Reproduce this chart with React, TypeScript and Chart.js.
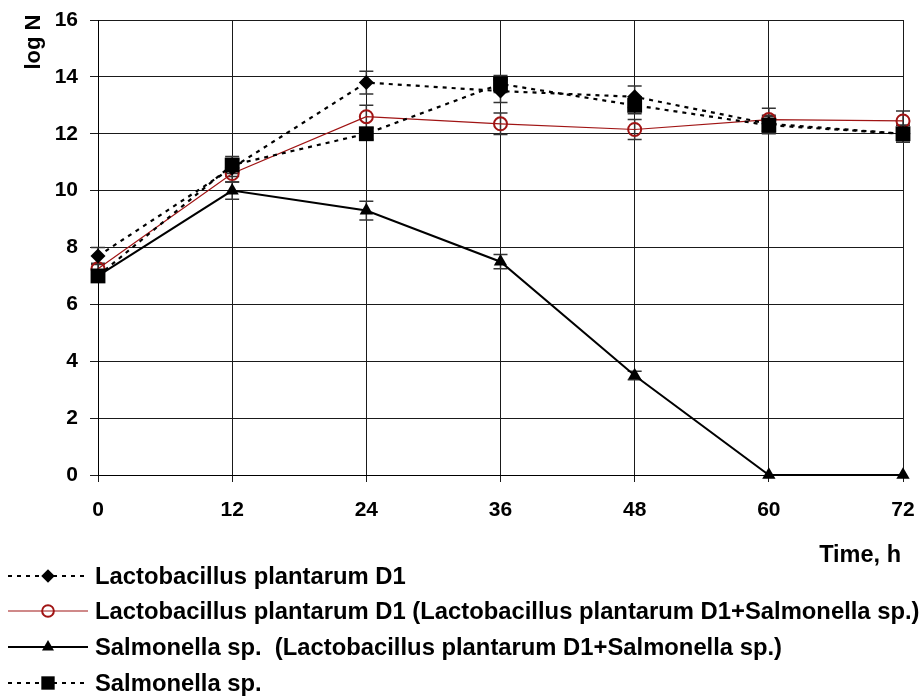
import { useEffect, useRef } from "react";
import { Chart, registerables } from "chart.js";
import { drawPoint } from "chart.js/helpers";

Chart.register(...registerables);

const hours = [0, 12, 24, 36, 48, 60, 72];
const yTickValues = [0, 2, 4, 6, 8, 10, 12, 14, 16];

const lpD1 = [7.7, 10.8, 13.8, 13.5, 13.3, 12.35, 12.0];
const lpD1Err = [0.3, 0.3, 0.4, 0.4, 0.38, 0.3, 0.3];

const lpMix = [7.25, 10.6, 12.6, 12.35, 12.15, 12.5, 12.45];
const lpMixErr = [0.2, 0.3, 0.4, 0.38, 0.35, 0.4, 0.35];

const salMix = [7.0, 10.0, 9.3, 7.5, 3.5, 0, 0];
const salMixErr = [0.2, 0.3, 0.33, 0.25, 0.15, 0, 0];

const sal = [7.0, 10.9, 12.0, 13.75, 13.0, 12.3, 12.0];
const salErr = [0.2, 0.3, 0.2, 0.3, 0.3, 0.3, 0.3];

const seriesLabels = [
  "Lactobacillus plantarum D1",
  "Lactobacillus plantarum D1 (Lactobacillus plantarum D1+Salmonella sp.)",
  "Salmonella sp.  (Lactobacillus plantarum D1+Salmonella sp.)",
  "Salmonella sp.",
];

const xTitle = "Time, h";
const yTitle = "log N";

const FONT = "'Liberation Sans', Arial, sans-serif";
const RED = "#A01414";

const toPoints = (vals: number[]) => hours.map((h, i) => ({ x: h, y: vals[i] }));

export default function App() {
  const ref = useRef<HTMLCanvasElement | null>(null);

  useEffect(() => {
    if (!ref.current) return;

    const errorBars = {
      id: "errorBars",
      beforeDatasetsDraw(chart: any) {
        const ctx = chart.ctx;
        const ys = chart.scales.y;
        ctx.save();
        ctx.strokeStyle = "#333";
        ctx.lineWidth = 1.5;
        chart.data.datasets.forEach((ds: any, di: number) => {
          const meta = chart.getDatasetMeta(di);
          const errs: number[] = ds.errors || [];
          meta.data.forEach((el: any, i: number) => {
            const e = errs[i];
            if (!e) return;
            const v = ds.data[i].y;
            const x = el.x;
            const y1 = ys.getPixelForValue(v + e);
            const y2 = ys.getPixelForValue(v - e);
            ctx.beginPath();
            ctx.moveTo(x, y1);
            ctx.lineTo(x, y2);
            ctx.moveTo(x - 7, y1);
            ctx.lineTo(x + 7, y1);
            ctx.moveTo(x - 7, y2);
            ctx.lineTo(x + 7, y2);
            ctx.stroke();
          });
        });
        ctx.restore();
      },
    };

    const extras = {
      id: "extras",
      afterDraw(chart: any) {
        const ctx = chart.ctx;
        ctx.save();
        ctx.fillStyle = "#000";
        ctx.font = `bold 22px ${FONT}`;
        ctx.translate(34, 42);
        ctx.rotate(-Math.PI / 2);
        ctx.textAlign = "center";
        ctx.textBaseline = "middle";
        ctx.fillText(yTitle, 0, 0);
        ctx.restore();

        ctx.save();
        ctx.fillStyle = "#000";
        ctx.font = `bold 23.5px ${FONT}`;
        ctx.textAlign = "right";
        ctx.textBaseline = "middle";
        ctx.fillText(xTitle, 901, 556);

        const rows = [576, 611, 647, 683];
        chart.data.datasets.forEach((ds: any) => {
          const y = rows[ds.legendRow];
          ctx.save();
          ctx.strokeStyle = ds.borderColor;
          ctx.lineWidth = ds.borderWidth;
          ctx.setLineDash(ds.borderDash || []);
          ctx.beginPath();
          ctx.moveTo(8, y);
          ctx.lineTo(88, y);
          ctx.stroke();
          ctx.setLineDash([]);
          ctx.fillStyle = ds.pointBackgroundColor;
          ctx.strokeStyle = ds.pointBorderColor;
          ctx.lineWidth = ds.pointBorderWidth;
          drawPoint(
            ctx,
            {
              pointStyle: ds.pointStyle,
              radius: ds.pointRadius * 0.9,
              borderWidth: ds.pointBorderWidth,
              rotation: 0,
            } as any,
            48,
            y
          );
          ctx.restore();
          ctx.fillStyle = "#000";
          ctx.font = `bold 23.8px ${FONT}`;
          ctx.textAlign = "left";
          ctx.textBaseline = "middle";
          ctx.fillText(ds.label, 95, y + 1);
        });
        ctx.restore();
      },
    };

    const chart = new Chart(ref.current, {
      type: "line",
      data: {
        datasets: [
          {
            label: seriesLabels[3],
            legendRow: 3,
            data: toPoints(sal),
            errors: salErr,
            borderColor: "#000",
            borderWidth: 2.2,
            borderDash: [4, 5],
            pointStyle: "rect",
            pointRadius: 10.5,
            pointBackgroundColor: "#000",
            pointBorderColor: "#000",
            pointBorderWidth: 0,
            order: 0,
            clip: false,
          } as any,
          {
            label: seriesLabels[0],
            legendRow: 0,
            data: toPoints(lpD1),
            errors: lpD1Err,
            borderColor: "#000",
            borderWidth: 2.2,
            borderDash: [4, 5],
            pointStyle: "rectRot",
            pointRadius: 7.5,
            pointBackgroundColor: "#000",
            pointBorderColor: "#000",
            pointBorderWidth: 0,
            order: 1,
            clip: false,
          } as any,
          {
            label: seriesLabels[1],
            legendRow: 1,
            data: toPoints(lpMix),
            errors: lpMixErr,
            borderColor: RED,
            borderWidth: 1.2,
            pointStyle: "circle",
            pointRadius: 6.5,
            pointBackgroundColor: "rgba(255,255,255,0)",
            pointBorderColor: RED,
            pointBorderWidth: 2,
            order: 2,
            clip: false,
          } as any,
          {
            label: seriesLabels[2],
            legendRow: 2,
            data: toPoints(salMix),
            errors: salMixErr,
            borderColor: "#000",
            borderWidth: 2,
            pointStyle: "triangle",
            pointRadius: 7.7,
            pointBackgroundColor: "#000",
            pointBorderColor: "#000",
            pointBorderWidth: 0,
            order: 3,
            clip: false,
          } as any,
        ],
      },
      options: {
        animation: false,
        responsive: true,
        maintainAspectRatio: false,
        events: [],
        layout: { padding: { left: 0, top: 20, right: 19, bottom: 0 } },
        plugins: {
          legend: { display: false },
          tooltip: { enabled: false },
          title: { display: false },
        },
        elements: { line: { tension: 0 } },
        scales: {
          x: {
            type: "linear",
            min: 0,
            max: 72,
            afterFit: (s: any) => {
              s.height = 223;
              s.paddingLeft = 0;
              s.paddingRight = 0;
            },
            afterBuildTicks: (s: any) => {
              s.ticks = hours.map((v) => ({ value: v }));
            },
            ticks: {
              color: "#000",
              font: { family: FONT, size: 21, weight: "bold" },
              padding: 16,
              maxRotation: 0,
            },
            grid: { color: "#1a1a1a", lineWidth: 1, tickLength: 7 },
            border: { color: "#000", width: 1 },
          },
          y: {
            type: "linear",
            min: 0,
            max: 16,
            afterFit: (s: any) => {
              s.width = 98;
              s.paddingTop = 0;
              s.paddingBottom = 0;
            },
            afterBuildTicks: (s: any) => {
              s.ticks = yTickValues.map((v) => ({ value: v }));
            },
            ticks: {
              color: "#000",
              font: { family: FONT, size: 21, weight: "bold" },
              padding: 12,
            },
            grid: { color: "#1a1a1a", lineWidth: 1, tickLength: 8 },
            border: { color: "#000", width: 1 },
          },
        },
      } as any,
      plugins: [errorBars, extras],
    });

    return () => chart.destroy();
  }, []);

  return (
    <div style={{ position: "absolute", left: 0, top: 0, width: 922, height: 698, background: "#fff" }}>
      <canvas ref={ref} />
    </div>
  );
}
